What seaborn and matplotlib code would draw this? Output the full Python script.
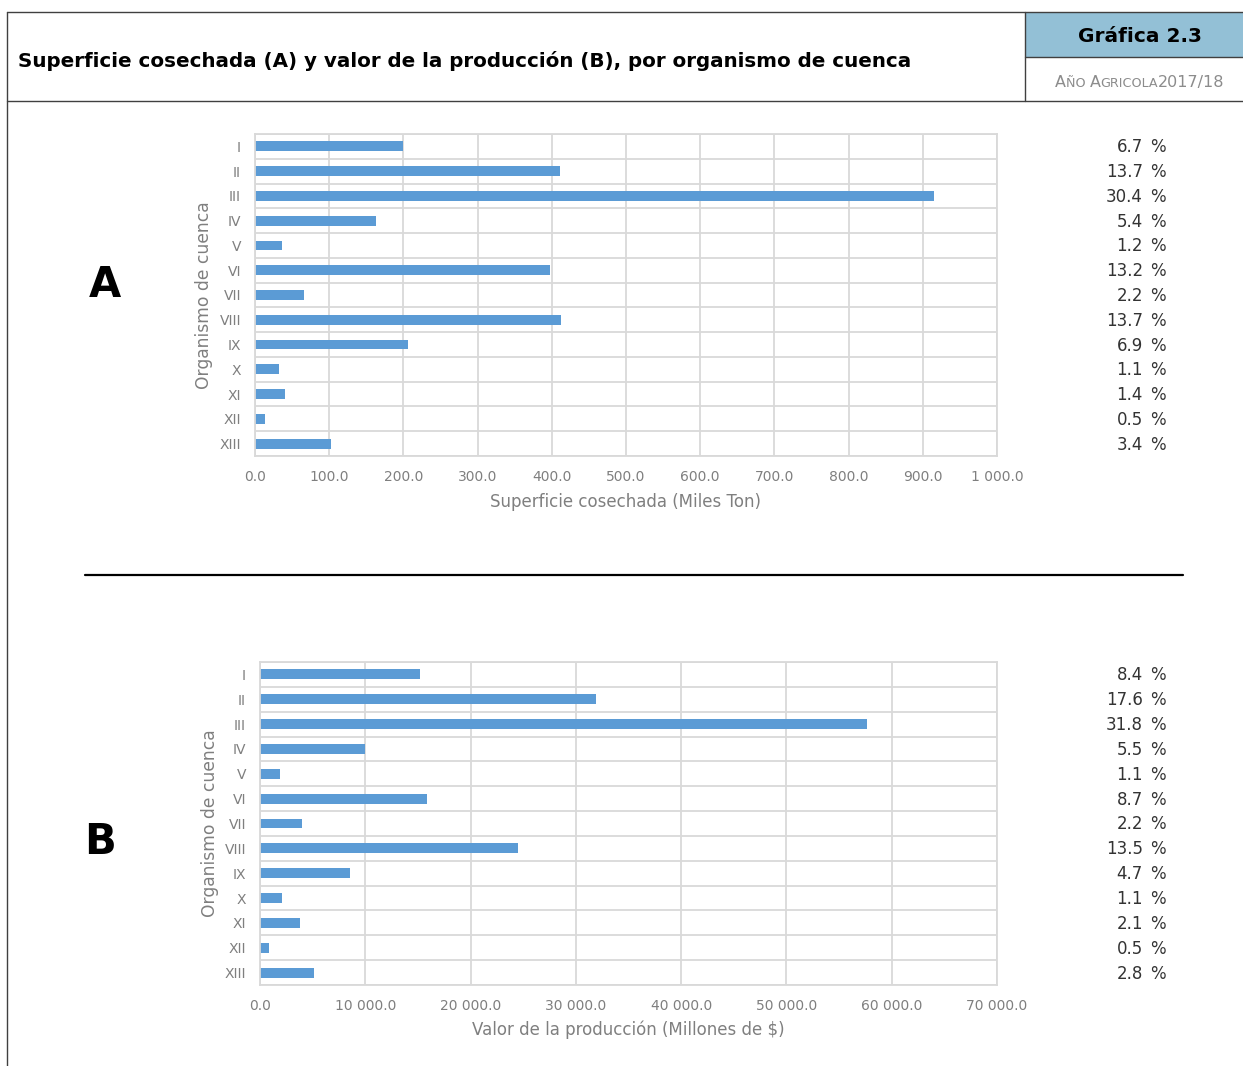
import numpy as np
import pandas as pd
import matplotlib.pyplot as plt
import seaborn as sns
from matplotlib.ticker import FuncFormatter, MultipleLocator, FixedLocator
from matplotlib.transforms import blended_transform_factory

organismos = ['I', 'II', 'III', 'IV', 'V', 'VI', 'VII', 'VIII', 'IX', 'X', 'XI', 'XII', 'XIII']
superficie = [199.4, 410.5, 914.5, 163.6, 36.5, 397.0, 65.7, 412.7, 206.7, 32.0, 40.9, 13.9, 103.0]
valor = [15235, 31911, 57646, 9985, 1904, 15853, 4015, 24551, 8595, 2110, 3809, 824, 5096]
pct_superficie = ['6.7', '13.7', '30.4', '5.4', '1.2', '13.2', '2.2', '13.7', '6.9', '1.1', '1.4', '0.5', '3.4']
pct_valor = ['8.4', '17.6', '31.8', '5.5', '1.1', '8.7', '2.2', '13.5', '4.7', '1.1', '2.1', '0.5', '2.8']

df_a = pd.DataFrame({'organismo': organismos, 'valor': superficie})
df_b = pd.DataFrame({'organismo': organismos, 'valor': valor})

sns.set_theme(style='white')
plt.rcParams['font.family'] = ['DejaVu Sans']

W, H = 1243, 1066
fig = plt.figure(figsize=(W / 100, H / 100), dpi=100)

# fondo en coordenadas de pixel para marcos y textos
bg = fig.add_axes([0, 0, 1, 1])
bg.set_xlim(0, W)
bg.set_ylim(H, 0)
bg.axis('off')

line_c = '#404040'
bg.add_patch(plt.Rectangle((1026, 13), W - 1026, 44, color='#93c0d6', lw=0))
bg.plot([7, W], [12, 12], color=line_c, lw=1)
bg.plot([7, W], [101, 101], color=line_c, lw=1)
bg.plot([7, 7], [12, H], color=line_c, lw=1)
bg.plot([1025, 1025], [12, 101], color=line_c, lw=1)
bg.plot([1025, W], [57, 57], color=line_c, lw=1)
bg.plot([85, 1183], [575, 575], color='black', lw=1.6)

bg.text(18, 61, 'Superficie cosechada (A) y valor de la producción (B), por organismo de cuenca',
        fontsize=14.3, fontweight='bold', color='black', va='center', ha='left')
bg.text(1140, 37, 'Gráfica 2.3', fontsize=14.5, fontweight='heavy', color='black', va='center', ha='center')

# "Año agrícola" en versalitas
r = fig.canvas.get_renderer()
pieces = [('A', 11.5), ('ÑO ', 9.2), ('A', 11.5), ('GRICOLA', 9.2), ('2017/18', 11.5)]
texts = [bg.text(0, 87, s, fontsize=fs, color='#8c8c8c', va='baseline', ha='left') for s, fs in pieces]
widths = [t.get_window_extent(renderer=r).width for t in texts]
x = 1140 - sum(widths) / 2
for t, w in zip(texts, widths):
    t.set_x(x)
    x += w

bg.text(105, 285, 'A', fontsize=30, fontweight='bold', color='black', va='center', ha='center')
bg.text(100, 842, 'B', fontsize=30, fontweight='bold', color='black', va='center', ha='center')

grid_c = '#d9d9d9'
tick_c = '#7f7f7f'


def draw_panel(rect, data, xmax, step, xlabel, pcts, xlab_y):
    ax = fig.add_axes(rect)
    sns.barplot(data=data, x='valor', y='organismo', orient='h',
                color='#5b9bd5', width=0.4, linewidth=0, saturation=1, ax=ax)
    ax.set_xlim(0, xmax)
    ax.set_ylim(len(organismos) - 0.5, -0.5)
    ax.xaxis.set_major_locator(MultipleLocator(step))
    ax.xaxis.set_major_formatter(FuncFormatter(lambda v, p: f'{v:,.1f}'.replace(',', ' ')))
    ax.yaxis.set_minor_locator(FixedLocator(np.arange(-0.5, len(organismos), 1)))
    ax.grid(True, axis='x', which='major', color=grid_c, lw=1.3)
    ax.grid(True, axis='y', which='minor', color=grid_c, lw=1.3)
    ax.set_axisbelow(True)
    for s in ax.spines.values():
        s.set_color(grid_c)
        s.set_linewidth(1.3)
    ax.tick_params(axis='both', which='both', length=0, colors=tick_c, labelsize=10, pad=10)
    ax.set_xlabel(xlabel, fontsize=12, color=tick_c)
    ax.set_ylabel('Organismo de cuenca', fontsize=12.3, color=tick_c)
    ax.xaxis.set_label_coords(0.5, xlab_y)
    ax.yaxis.set_label_coords(-0.056, 0.5)
    tr = blended_transform_factory(bg.transData, ax.transData)
    for i, p in enumerate(pcts):
        ax.text(1143, i + 0.04, p, transform=tr, ha='right', va='center', fontsize=12, color='#333333')
        ax.text(1150, i + 0.04, '%', transform=tr, ha='left', va='center', fontsize=12, color='#333333')
    return ax


draw_panel([255 / W, 1 - 456 / H, 742 / W, 322 / H], df_a, 1000, 100,
           'Superficie cosechada (Miles Ton)', pct_superficie, -0.115)
draw_panel([260 / W, 1 - 985 / H, 737 / W, 323 / H], df_b, 70000, 10000,
           'Valor de la producción (Millones de $)', pct_valor, -0.111)

fig.savefig('out.png', dpi=100)
